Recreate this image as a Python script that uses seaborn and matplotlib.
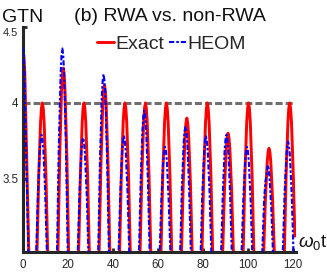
import matplotlib
matplotlib.use("Agg")
import matplotlib.pyplot as plt
import matplotlib.transforms as mtransforms
import seaborn as sns
import pandas as pd

# ---- data ----
exact_t = [0.0, 0.4, 0.8, 1.7, 2.9,
           5.9, 7.0, 7.8, 8.2, 8.6, 9.0, 9.4, 10.2, 11.3,
           15.2, 16.3, 17.1, 17.5, 17.9, 18.3, 18.7, 19.5, 20.6,
           24.4, 25.5, 26.3, 26.7, 27.1, 27.5, 27.9, 28.7, 29.8,
           33.5, 34.6, 35.4, 35.8, 36.2, 36.6, 37.0, 37.8, 38.9,
           42.6, 43.7, 44.5, 44.9, 45.3, 45.7, 46.1, 46.9, 48.0,
           51.7, 52.8, 53.6, 54.0, 54.4, 54.8, 55.2, 56.0, 57.1,
           61.0, 62.1, 62.9, 63.3, 63.7, 64.1, 64.5, 65.3, 66.4,
           70.1, 71.2, 72.0, 72.4, 72.8, 73.2, 73.6, 74.4, 75.5,
           79.2, 80.3, 81.1, 81.5, 81.9, 82.3, 82.7, 83.5, 84.6,
           88.4, 89.5, 90.3, 90.7, 91.1, 91.5, 91.9, 92.7, 93.8,
           97.5, 98.6, 99.4, 99.8, 100.2, 100.6, 101.0, 101.8, 102.9,
           106.6, 107.7, 108.5, 108.9, 109.3, 109.7, 110.1, 110.9, 112.0,
           115.8, 116.9, 117.7, 118.1, 118.5, 118.9, 119.3, 120.1, 120.8]
exact_y = [4.35, 4.31, 4.20, 3.60, 2.80,
           2.80, 3.52, 3.87, 3.965, 4.00, 3.965, 3.87, 3.52, 2.80,
           2.75, 3.64, 4.07, 4.187, 4.23, 4.187, 4.07, 3.64, 2.75,
           2.80, 3.52, 3.87, 3.965, 4.00, 3.965, 3.87, 3.52, 2.80,
           2.78, 3.58, 3.97, 4.081, 4.12, 4.081, 3.97, 3.58, 2.78,
           2.80, 3.52, 3.87, 3.965, 4.00, 3.965, 3.87, 3.52, 2.80,
           2.80, 3.52, 3.87, 3.965, 4.00, 3.965, 3.87, 3.52, 2.80,
           2.80, 3.52, 3.87, 3.965, 4.00, 3.965, 3.87, 3.52, 2.80,
           2.82, 3.47, 3.78, 3.868, 3.90, 3.868, 3.78, 3.47, 2.82,
           2.80, 3.52, 3.87, 3.965, 4.00, 3.965, 3.87, 3.52, 2.80,
           2.84, 3.42, 3.70, 3.772, 3.80, 3.772, 3.70, 3.42, 2.84,
           2.80, 3.52, 3.87, 3.965, 4.00, 3.965, 3.87, 3.52, 2.80,
           2.86, 3.36, 3.61, 3.676, 3.70, 3.676, 3.61, 3.36, 2.86,
           2.80, 3.52, 3.87, 3.965, 4.00, 3.965, 3.87, 3.52, 3.12]

heom_t = [0.0, 0.35, 0.7, 1.5, 2.7,
          5.55, 6.65, 7.45, 7.85, 8.25, 8.65, 9.05, 9.85, 10.95,
          14.8, 15.9, 16.7, 17.1, 17.5, 17.9, 18.3, 19.1, 20.2,
          24.0, 25.1, 25.9, 26.3, 26.7, 27.1, 27.5, 28.3, 29.4,
          33.1, 34.2, 35.0, 35.4, 35.8, 36.2, 36.6, 37.4, 38.5,
          42.15, 43.25, 44.05, 44.45, 44.85, 45.25, 45.65, 46.45, 47.55,
          51.2, 52.3, 53.1, 53.5, 53.9, 54.3, 54.7, 55.5, 56.6,
          60.4, 61.5, 62.3, 62.7, 63.1, 63.5, 63.9, 64.7, 65.8,
          69.5, 70.6, 71.4, 71.8, 72.2, 72.6, 73.0, 73.8, 74.9,
          78.6, 79.7, 80.5, 80.9, 81.3, 81.7, 82.1, 82.9, 84.0,
          87.7, 88.8, 89.6, 90.0, 90.4, 90.8, 91.2, 92.0, 93.1,
          96.8, 97.9, 98.7, 99.1, 99.5, 99.9, 100.3, 101.1, 102.2,
          106.0, 107.1, 107.7, 108.2, 108.7, 109.1, 109.5, 110.3, 111.4,
          115.1, 116.2, 117.0, 117.4, 117.8, 118.2, 118.6, 119.4, 120.3]
heom_y = [4.37, 4.33, 4.20, 3.60, 2.80,
          2.84, 3.41, 3.69, 3.762, 3.79, 3.762, 3.69, 3.41, 2.84,
          2.73, 3.71, 4.18, 4.312, 4.36, 4.312, 4.18, 3.71, 2.73,
          2.85, 3.40, 3.67, 3.743, 3.77, 3.743, 3.67, 3.40, 2.85,
          2.76, 3.62, 4.04, 4.148, 4.19, 4.148, 4.04, 3.62, 2.76,
          2.84, 3.41, 3.68, 3.753, 3.78, 3.753, 3.68, 3.41, 2.84,
          2.81, 3.49, 3.83, 3.917, 3.95, 3.917, 3.83, 3.49, 2.81,
          2.86, 3.37, 3.62, 3.685, 3.71, 3.685, 3.62, 3.37, 2.86,
          2.83, 3.44, 3.74, 3.815, 3.845, 3.815, 3.74, 3.44, 2.83,
          2.84, 3.41, 3.68, 3.753, 3.78, 3.753, 3.68, 3.41, 2.84,
          2.84, 3.41, 3.69, 3.762, 3.79, 3.762, 3.69, 3.41, 2.84,
          2.86, 3.37, 3.62, 3.685, 3.71, 3.685, 3.62, 3.37, 2.86,
          2.88, 3.35, 3.48, 3.52, 3.59, 3.57, 3.51, 3.31, 2.88,
          2.85, 3.39, 3.65, 3.719, 3.745, 3.719, 3.65, 3.39, 2.95]

ref_t = [0, 120]
ref_y = [4, 4]

xticks = [0, 20, 40, 60, 80, 100, 120]
yticks = [3.5, 4, 4.5]
ytick_labels = ["3.5", "4", "4.5"]

# ---- style ----
sns.set_style("ticks")
plt.rcParams["font.family"] = ["Liberation Sans", "DejaVu Sans"]
plt.rcParams["mathtext.fontset"] = "custom"
plt.rcParams["mathtext.rm"] = "Liberation Sans"
plt.rcParams["mathtext.it"] = "Liberation Sans:italic"

fig = plt.figure(figsize=(3.27, 2.73), dpi=100)
ax = fig.add_axes([0.0703, 0.0769, 0.8349, 0.8231])

df_exact = pd.DataFrame({"t": exact_t, "GTN": exact_y})
df_heom = pd.DataFrame({"t": heom_t, "GTN": heom_y})
df_ref = pd.DataFrame({"t": ref_t, "GTN": ref_y})

sns.lineplot(data=df_ref, x="t", y="GTN", sort=False, estimator=None, ax=ax,
             color="#6f6f6f", lw=2.2, linestyle=(0, (2.3, 1.0)), zorder=1)
sns.lineplot(data=df_exact, x="t", y="GTN", sort=False, estimator=None, ax=ax,
             color="#ff0000", lw=2.1, label="Exact", zorder=2)
sns.lineplot(data=df_heom, x="t", y="GTN", sort=False, estimator=None, ax=ax,
             color="#0000ff", lw=1.5, linestyle=(0, (2.5, 1.0, 1.2, 1.0)),
             label="HEOM", zorder=3)

ax.set_xlim(0, 121.3)
ax.set_ylim(3.015, 4.5)
ax.set_xticks(xticks)
ax.set_yticks(yticks)
ax.set_yticklabels(ytick_labels)
ax.set_xlabel("")
ax.set_ylabel("")

for side in ["top", "right"]:
    ax.spines[side].set_visible(False)
for side in ["left", "bottom"]:
    ax.spines[side].set_linewidth(2.2)
    ax.spines[side].set_color("#262626")
ax.tick_params(axis="both", direction="in", length=3, width=2,
               color="#262626", labelcolor="#262626", labelsize=8.3)
ax.tick_params(axis="x", pad=5.2)
ax.tick_params(axis="y", pad=3.3)

# the top y label sits a little lower, just under the "GTN" text
top_lab = ax.get_yticklabels()[-1]
top_lab.set_transform(top_lab.get_transform() +
                      mtransforms.ScaledTranslation(0, -3.5 / 72, fig.dpi_scale_trans))
top_lab.set_fontsize(8)

leg = ax.legend(loc="center left", bbox_to_anchor=(97 / 327, 1 - 44 / 273),
                bbox_transform=fig.transFigure, ncol=2, frameon=False,
                fontsize=14, handlelength=0.85, handletextpad=0.1,
                columnspacing=0.25, borderpad=0, borderaxespad=0)

fig.text(0.005, 1 - 21.7 / 273, "GTN", fontsize=14, ha="left", va="baseline",
         color="#111111")
fig.text(170 / 327, 1 - 21.3 / 273, "(b) RWA vs. non-RWA", fontsize=14,
         ha="center", va="baseline", color="#111111")
fig.text(298 / 327, 1 - 247 / 273, r"$\omega_0$t", fontsize=13.5, ha="left",
         va="baseline", color="#111111")

fig.savefig("out.png", dpi=100)
